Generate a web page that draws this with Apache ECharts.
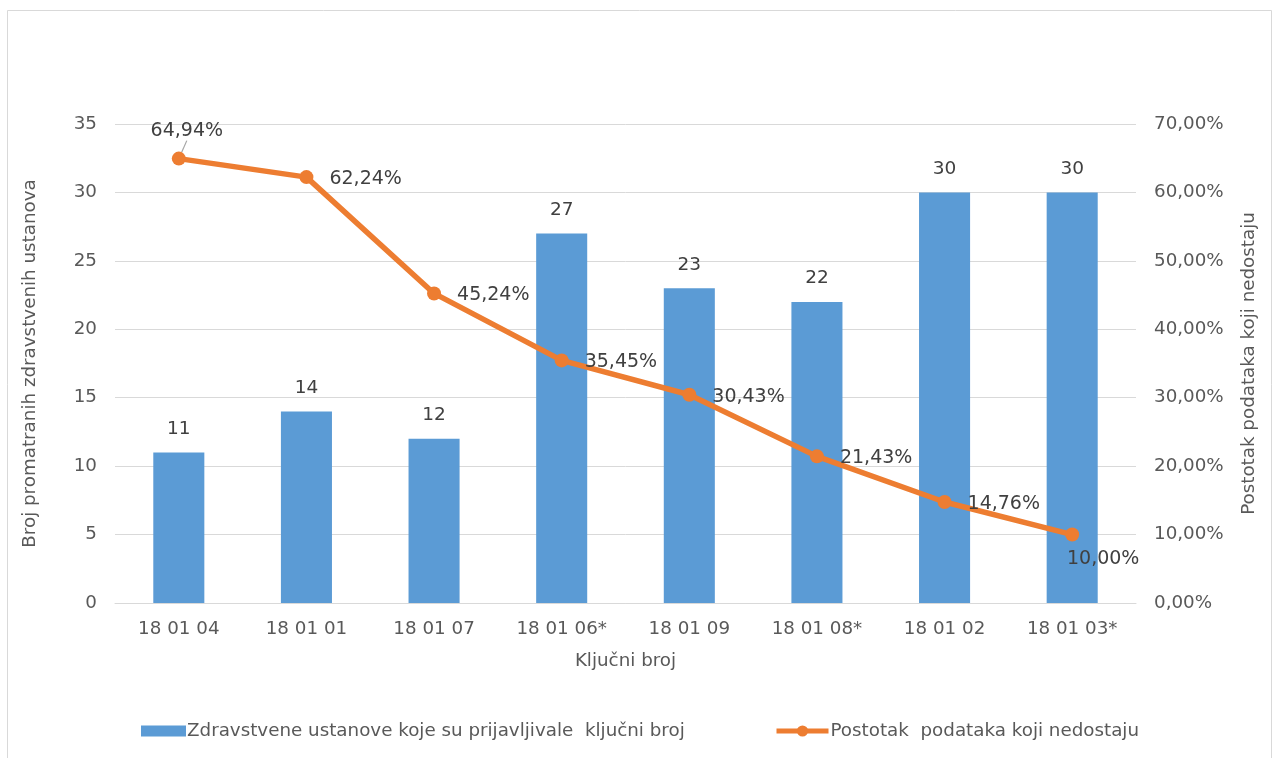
<!DOCTYPE html>
<html>
<head>
<meta charset="utf-8">
<script src="https://cdn.jsdelivr.net/npm/echarts@6/dist/echarts.min.js"></script>
<style>
html,body{margin:0;padding:0;background:#fff;}
#c{width:1274px;height:758px;}
</style>
</head>
<body>
<div id="c"></div>
<script>
var categories = ['18 01 04','18 01 01','18 01 07','18 01 06*','18 01 09','18 01 08*','18 01 02','18 01 03*'];
var institutions = [11, 14, 12, 27, 23, 22, 30, 30];
var missingPct = [64.94, 62.24, 45.24, 35.45, 30.43, 21.43, 14.76, 10.00];
var barName = 'Zdravstvene ustanove koje su prijavljivale  ključni broj';
var lineName = 'Postotak  podataka koji nedostaju';

var FONT = 'DejaVu Sans, Liberation Sans, sans-serif';
var AX = 18.3;
function fmtPct(v){ return v.toFixed(2).replace('.', ',') + '%'; }

var lastIdx = missingPct.length - 1;
var lineData = missingPct.map(function(v, i){
  var lbl = { show: true, position: 'right', distance: 16 };
  var ll = { show: false };
  if (i === 0) {
    lbl = { show: true, position: 'top', distance: 2 };
    ll = { show: true };
  }
  if (i === lastIdx) { lbl = { show: true, position: 'bottom', distance: 8 }; }
  return { value: v, label: lbl, labelLine: ll };
});

var chart = echarts.init(document.getElementById('c'), null, {renderer: 'canvas'});
chart.setOption({
  animation: false,
  backgroundColor: '#ffffff',
  textStyle: { fontFamily: FONT },
  graphic: [{
    type: 'rect', silent: true,
    shape: { x: 7.5, y: 10.5, width: 1264, height: 760 },
    style: { fill: 'none', stroke: '#d9d9d9', lineWidth: 1 }
  }],
  grid: { left: 115, right: 138, top: 124, bottom: 155, containLabel: false },
  legend: [{
    data: [barName], left: 136, top: 717, itemWidth: 45, itemHeight: 11, itemGap: 4,
    icon: 'rect',
    textStyle: { color: '#595959', fontSize: AX, fontFamily: FONT, padding: [0,0,0,-4] }
  }, {
    data: [lineName], left: 769, top: 717, itemWidth: 52, itemHeight: 14, itemGap: 4,
    lineStyle: { width: 5 },
    textStyle: { color: '#595959', fontSize: AX, fontFamily: FONT, padding: [0,0,0,-3] }
  }],
  xAxis: {
    type: 'category', data: categories,
    name: 'Ključni broj', nameLocation: 'middle', nameGap: 49,
    nameTextStyle: { color: '#595959', fontSize: AX, fontFamily: FONT },
    axisLine: { lineStyle: { color: '#d9d9d9', width: 1 } },
    axisTick: { show: false },
    axisLabel: { color: '#595959', fontSize: AX, fontFamily: FONT, margin: 17 }
  },
  yAxis: [{
    type: 'value', min: 0, max: 35, interval: 5,
    name: 'Broj promatranih zdravstvenih ustanova', nameLocation: 'middle', nameGap: 76,
    nameTextStyle: { color: '#595959', fontSize: AX, fontFamily: FONT },
    axisLine: { show: false }, axisTick: { show: false },
    splitLine: { lineStyle: { color: '#d9d9d9', width: 1 } },
    axisLabel: { color: '#595959', fontSize: AX, fontFamily: FONT, margin: 18 }
  }, {
    type: 'value', min: 0, max: 70, interval: 10,
    name: 'Postotak podataka koji nedostaju', nameLocation: 'middle', nameGap: 104,
    nameRotate: 90,
    nameTextStyle: { color: '#595959', fontSize: AX, fontFamily: FONT },
    axisLine: { show: false }, axisTick: { show: false },
    splitLine: { show: false },
    axisLabel: { color: '#595959', fontSize: AX, fontFamily: FONT, margin: 18,
      formatter: function(v){ return fmtPct(v); } }
  }],
  series: [{
    name: barName, type: 'bar', data: institutions, barWidth: '40%',
    itemStyle: { color: '#5b9bd5' },
    label: { show: true, position: 'top', distance: 14, color: '#404040', fontSize: 18.5, fontFamily: FONT }
  }, {
    name: lineName, type: 'line', yAxisIndex: 1, data: lineData,
    symbol: 'circle', symbolSize: 14,
    lineStyle: { color: '#ed7d31', width: 5.5 },
    itemStyle: { color: '#ed7d31' },
    label: { color: '#404040', fontSize: 19, fontFamily: FONT,
      formatter: function(p){ return fmtPct(p.value); } },
    labelLine: { lineStyle: { color: '#a6a6a6', width: 1.2 } },
    labelLayout: function(p){
      if (p.dataIndex === 0) { return { dx: 8, dy: -9 }; }
      if (p.dataIndex === lastIdx) { return { dx: 31, dy: 0 }; }
      return { dx: 0, dy: 2 };
    },
    z: 5
  }]
});
</script>
</body>
</html>
